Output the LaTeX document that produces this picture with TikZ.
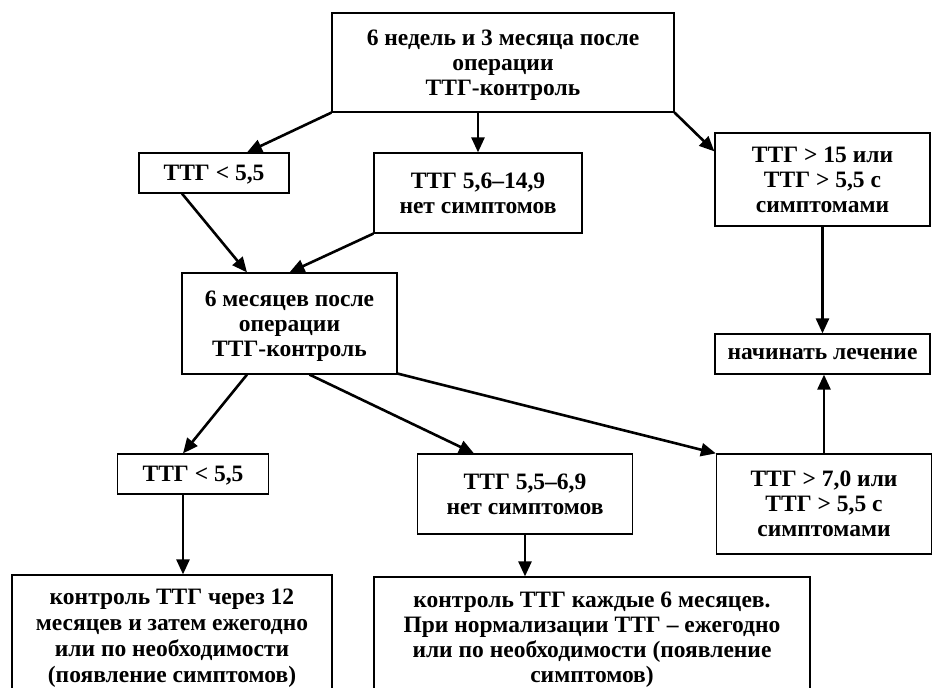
\documentclass[tikz,border=0pt]{standalone}
\usepackage{fontspec}
\setmainfont{Liberation Serif}
\usetikzlibrary{arrows.meta}

\tikzset{
  box/.style={draw, line width=1.2pt, align=center, inner sep=0pt, text depth=0pt,
    font=\fontsize{23.5}{25}\selectfont\bfseries},
  arr/.style={line width=2.6pt, -{Triangle[length=15pt,width=13pt]}}
}

\begin{document}
\begin{tikzpicture}[x=1pt,y=-1pt]
  \useasboundingbox (0,0) rectangle (943,688);

  % Define nodes
  \node[box, minimum width=342, minimum height=99] (top) at (503,62.5)
    {6 недель и 3 месяца после\\операции\\ТТГ-контроль};
  \node[box, minimum width=150, minimum height=40] (low1) at (214,173)
    {ТТГ < 5,5};
  \node[box, minimum width=208, minimum height=80] (mid1) at (478,193)
    {ТТГ 5,6–14,9\\нет симптомов};
  \node[box, minimum width=215, minimum height=93] (high1) at (822.5,179.5)
    {ТТГ > 15 или\\ТТГ > 5,5 с\\симптомами};
  \node[box, minimum width=215, minimum height=40] (treat) at (822.5,354)
    {начинать лечение};
  \node[box, minimum width=215, minimum height=101] (six) at (289.5,323.5)
    {6 месяцев после\\операции\\ТТГ-контроль};
  \node[box, minimum width=151, minimum height=40] (low2) at (193,474)
    {ТТГ < 5,5};
  \node[box, minimum width=215, minimum height=80] (mid2) at (525,494)
    {ТТГ 5,5–6,9\\нет симптомов};
  \node[box, minimum width=215, minimum height=100] (high2) at (824,504)
    {ТТГ > 7,0 или\\ТТГ > 5,5 с\\симптомами};
  \node[box, minimum width=320, minimum height=122, font=\fontsize{23.5}{26}\selectfont\bfseries] (year) at (172,636)
    {контроль ТТГ через 12\\месяцев и затем ежегодно\\или по необходимости\\(появление симптомов)};
  \node[box, minimum width=436, minimum height=120, font=\fontsize{23.5}{25}\selectfont\bfseries] (half) at (592,637)
    {контроль ТТГ каждые 6 месяцев.\\При нормализации ТТГ – ежегодно\\или по необходимости (появление\\симптомов)};

  % Connect the nodes
  \draw[arr] (top.south west) -- ([xshift=33pt]low1.north);
  \draw[arr] (mid1.north |- top.south) -- (mid1.north);
  \draw[arr] (top.south east) -- ([yshift=-19pt]high1.north west);
  \draw[arr] ([xshift=-32pt]low1.south) -- ([xshift=-42.5pt]six.north);
  \draw[arr] (mid1.south west) -- (six.north);
  \draw[arr] (high1.south) -- (treat.north);
  \draw[arr] ([xshift=-42.5pt]six.south) -- ([xshift=-10pt]low2.north);
  \draw[arr] ([xshift=20pt]six.south) -- ([xshift=-51pt]mid2.north);
  \draw[arr] ([yshift=1pt]six.south east) -- (high2.north west);
  \draw[arr] (high2.north) -- (high2.north |- treat.south);
  \draw[arr] ([xshift=-10pt]low2.south) -- ([xshift=-10pt]low2.south |- year.north);
  \draw[arr] (mid2.south) -- (mid2.south |- half.north);

\end{tikzpicture}
\end{document}
